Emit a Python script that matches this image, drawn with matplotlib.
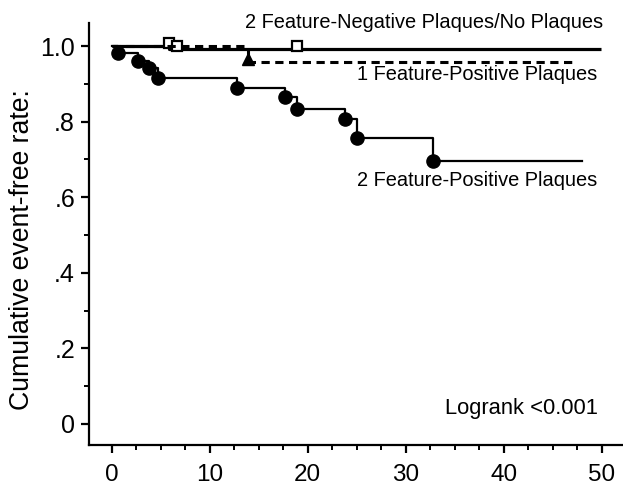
import matplotlib
matplotlib.use("Agg")
import matplotlib.pyplot as plt
from matplotlib.ticker import MultipleLocator, FixedLocator

plt.rcParams['font.family'] = ['Liberation Sans', 'DejaVu Sans']

# Kaplan-Meier step data (time in months, cumulative event-free rate)
# 2 feature-positive plaques: event times and survival after each event
t_pos2 = [0.64, 2.68, 3.80, 4.72, 12.8, 17.7, 18.9, 23.8, 25.0, 32.8]
s_pos2 = [0.981, 0.960, 0.942, 0.915, 0.889, 0.865, 0.833, 0.806, 0.757, 0.696]
end_pos2 = 48.0

# 1 feature-positive plaque
t_pos1 = [13.9]
s_pos1 = [0.958]
end_pos1 = 47.0

# 2 feature-negative plaques / no plaques
t_neg = [5.8]
s_neg = [0.992]
end_neg = 49.9
cens_t = [5.8, 6.7, 18.9]
cens_s = [1.008, 1.0, 1.0]

yticks = [0, 0.2, 0.4, 0.6, 0.8, 1.0]
ytick_labels = ['0', '.2', '.4', '.6', '.8', '1.0']
xticks = [0, 10, 20, 30, 40, 50]

fig = plt.figure(figsize=(6.23, 4.88), dpi=100)
ax = fig.add_axes([89 / 623, 1 - 445 / 488, 1 - 89 / 623, (445 - 23) / 488])

# 2 feature-negative / no plaques: thick solid line with open square censor marks
ax.step([0] + t_neg + [end_neg], [1.0] + s_neg + [s_neg[-1]], where='post',
        color='black', lw=2.3, solid_capstyle='butt')
ax.plot(cens_t, cens_s, 's', ms=6.5, mfc='white', mec='black', mew=1.6)

# 1 feature-positive plaque: dashed line
ax.step([0] + t_pos1 + [end_pos1], [1.0] + s_pos1 + [s_pos1[-1]], where='post',
        color='black', lw=2.2, dashes=(2.7, 1.8))
ax.plot(t_pos1, [s + 0.008 for s in s_pos1], '^', ms=9, color='black')

# 2 feature-positive plaques: thin line with filled circles at events
ax.step([0] + t_pos2 + [end_pos2], [1.0] + s_pos2 + [s_pos2[-1]], where='post',
        color='black', lw=1.6)
ax.plot(t_pos2, s_pos2, 'o', ms=9.5, color='black')

ax.set_xlim(-2.31, 52.14)
ax.set_ylim(-0.0556, 1.061)

for side in ('top', 'right'):
    ax.spines[side].set_visible(False)
for side in ('left', 'bottom'):
    ax.spines[side].set_linewidth(1.6)

ax.xaxis.set_major_locator(FixedLocator(xticks))
ax.xaxis.set_minor_locator(MultipleLocator(2.5))
ax.yaxis.set_major_locator(FixedLocator(yticks))
ax.yaxis.set_minor_locator(MultipleLocator(0.1))
ax.set_yticklabels(ytick_labels)
ax.tick_params(axis='both', which='major', direction='out', length=6, width=1.6,
               labelsize=18, color='black')
ax.tick_params(axis='x', which='major', labelsize=17.5, pad=7.5)
ax.tick_params(axis='both', which='minor', direction='out', length=3.5, width=1.4)
ax.tick_params(axis='y', which='major', pad=4)

fig.text(22 / 623, 1 - 250 / 488, 'Cumulative event-free rate:', rotation=90,
         ha='center', va='center', fontsize=19.2)

ax.text(50.1, 1.063, '2 Feature-Negative Plaques/No Plaques', ha='right', va='center',
        fontsize=14.4, clip_on=False)
ax.text(25.0, 0.926, '1 Feature-Positive Plaques', ha='left', va='center', fontsize=14.4)
ax.text(25.0, 0.645, '2 Feature-Positive Plaques', ha='left', va='center', fontsize=14.4)
ax.text(34.0, 0.042, 'Logrank <0.001', ha='left', va='center', fontsize=15.8)

fig.savefig('out.png', dpi=100)
